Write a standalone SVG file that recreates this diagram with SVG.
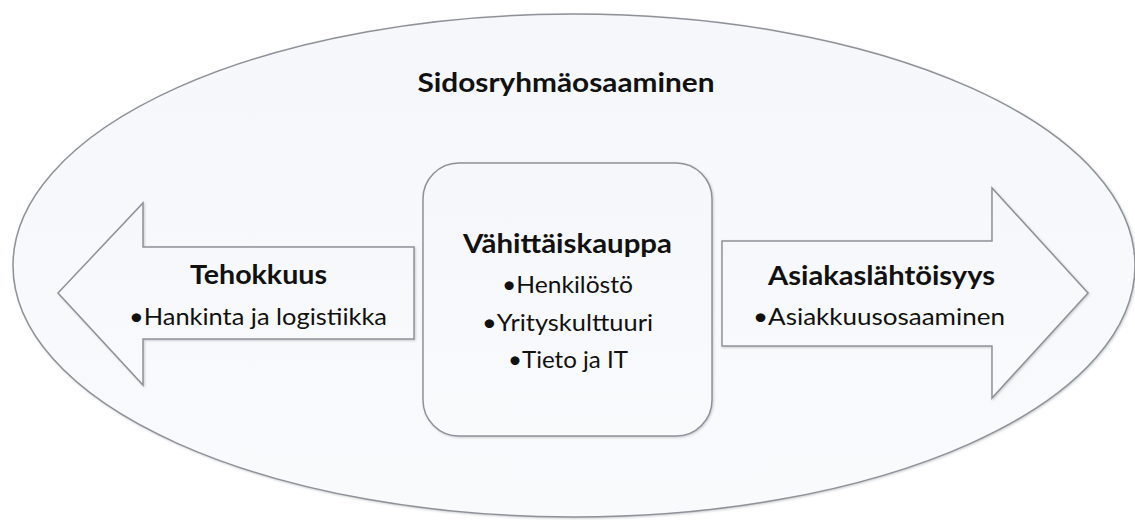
<svg xmlns="http://www.w3.org/2000/svg" width="1135" height="520" viewBox="0 0 1135 520">
<style>
.shape{fill:url(#fillg);stroke:#8e9298;stroke-width:1.5}
.title{font-family:Lato,"Liberation Sans",sans-serif;font-weight:bold;fill:#111;font-size:27px}
.sub{font-family:Lato,"Liberation Sans",sans-serif;fill:#111;font-size:23px}
</style>
<defs>
<linearGradient id="fillg" x1="0" y1="0" x2="0" y2="1">
<stop offset="0" stop-color="#f5f7fa"/>
<stop offset="1" stop-color="#f9fafc"/>
</linearGradient>
<filter id="sh" x="-5%" y="-5%" width="110%" height="110%">
<feDropShadow dx="1" dy="1" stdDeviation="1.2" flood-color="#9aa0a8" flood-opacity="0.5"/>
</filter>
</defs>
<rect width="1135" height="520" fill="#ffffff"/>
<g id="outer">
<ellipse class="shape" cx="574" cy="265.5" rx="561" ry="251.5" filter="url(#sh)"/>
<text class="title" x="566" y="92" text-anchor="middle" textLength="297" lengthAdjust="spacingAndGlyphs">Sidosryhmäosaaminen</text>
</g>
<g id="left-arrow">
<polygon class="shape" points="58,293 143,203 143,247 414,247 414,339 143,339 143,385" filter="url(#sh)"/>
<text class="title" x="258.5" y="284" text-anchor="middle" textLength="137" lengthAdjust="spacingAndGlyphs">Tehokkuus</text>
<text class="sub" x="258" y="325" text-anchor="middle" textLength="258" lengthAdjust="spacingAndGlyphs">•Hankinta ja logistiikka</text>
</g>
<g id="center">
<rect class="shape" x="423" y="163" width="289" height="273" rx="36" ry="36" filter="url(#sh)"/>
<text class="title" x="567.5" y="253" text-anchor="middle" textLength="209" lengthAdjust="spacingAndGlyphs">Vähittäiskauppa</text>
<text class="sub" x="567.5" y="293" text-anchor="middle" textLength="131" lengthAdjust="spacingAndGlyphs">•Henkilöstö</text>
<text class="sub" x="567.5" y="331" text-anchor="middle" textLength="171" lengthAdjust="spacingAndGlyphs">•Yrityskulttuuri</text>
<text class="sub" x="568" y="368" text-anchor="middle" textLength="120" lengthAdjust="spacingAndGlyphs">•Tieto ja IT</text>
</g>
<g id="right-arrow">
<polygon class="shape" points="722,241 992,241 992,188 1088,293 992,398 992,346 722,346" filter="url(#sh)"/>
<text class="title" x="881.5" y="285" text-anchor="middle" textLength="227" lengthAdjust="spacingAndGlyphs">Asiakaslähtöisyys</text>
<text class="sub" x="879" y="325" text-anchor="middle" textLength="252" lengthAdjust="spacingAndGlyphs">•Asiakkuusosaaminen</text>
</g>
<g id="connectors"></g>
</svg>
